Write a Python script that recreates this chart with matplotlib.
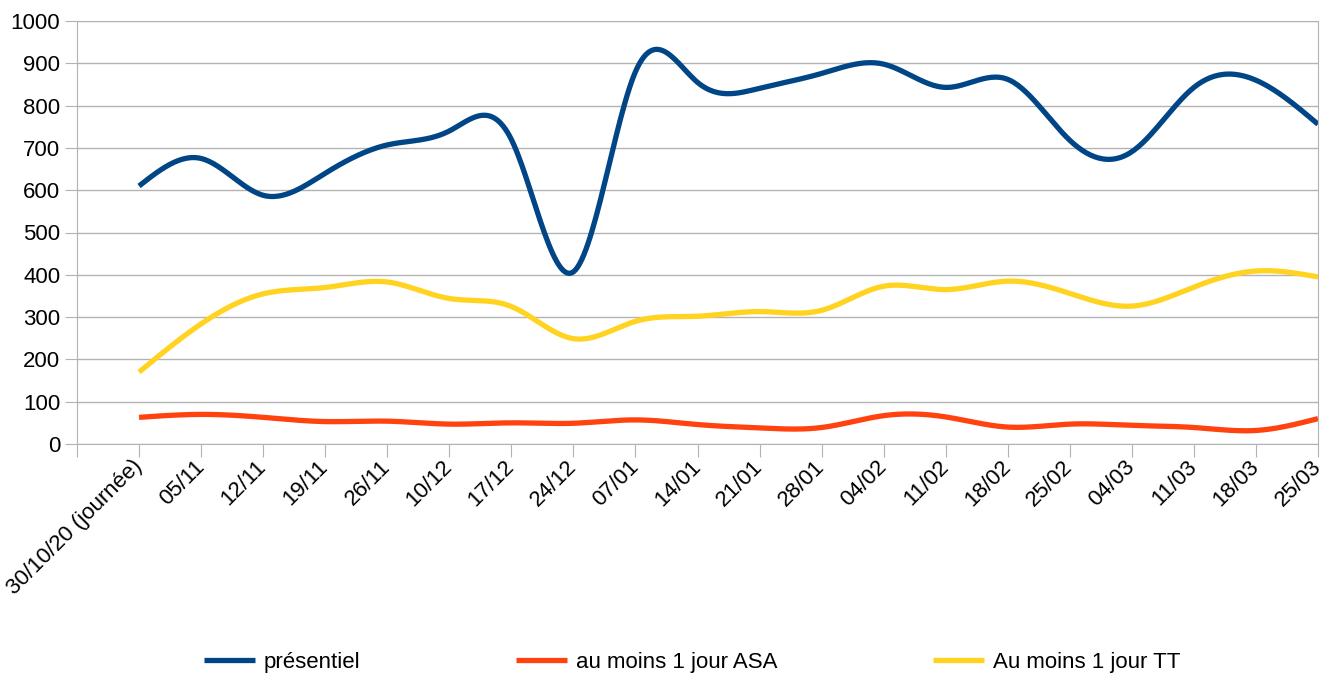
import numpy as np
import matplotlib
matplotlib.use("Agg")
import matplotlib.pyplot as plt

plt.rcParams['font.family'] = ['Liberation Sans', 'DejaVu Sans']

# categories (x axis)
dates = ["30/10/20 (journée)", "05/11", "12/11", "19/11", "26/11", "10/12", "17/12",
         "24/12", "07/01", "14/01", "21/01", "28/01", "04/02", "11/02", "18/02",
         "25/02", "04/03", "11/03", "18/03", "25/03"]

# series
presentiel = [610, 675, 588, 640, 707, 740, 720, 407, 880, 855,
              841, 876, 898, 843, 862, 718, 691, 843, 860, 756]
asa = [63, 70, 63, 53, 54, 47, 50, 49, 57, 46,
       38, 39, 67, 64, 40, 47, 44, 39, 32, 60]
tt = [170, 284, 355, 370, 383, 344, 325, 249, 290, 302,
      313, 316, 373, 365, 385, 356, 326, 371, 409, 395]

noms = ["présentiel", "au moins 1 jour ASA", "Au moins 1 jour TT"]
couleurs = ["#004586", "#ff420e", "#ffd320"]


def spline(y, pas=30):
    # spline cubique naturelle (comme le type "lissé" du tableur)
    y = np.asarray(y, dtype=float)
    n = len(y)
    A = np.zeros((n, n))
    b = np.zeros(n)
    A[0, 0] = 1
    A[-1, -1] = 1
    for i in range(1, n - 1):
        A[i, i - 1] = 1
        A[i, i] = 4
        A[i, i + 1] = 1
        b[i] = 6 * (y[i + 1] - 2 * y[i] + y[i - 1])
    M = np.linalg.solve(A, b)
    xs = []
    ys = []
    for i in range(n - 1):
        t = np.linspace(0, 1, pas, endpoint=(i == n - 2))
        s = (M[i] * (1 - t) ** 3 / 6 + M[i + 1] * t ** 3 / 6
             + (y[i] - M[i] / 6) * (1 - t) + (y[i + 1] - M[i + 1] / 6) * t)
        xs.extend(i + t)
        ys.extend(s)
    return np.array(xs), np.array(ys)


fig = plt.figure(figsize=(13.31, 6.75), dpi=100)
ax = fig.add_axes([77 / 1331, 1 - 444 / 675, (1318 - 77) / 1331, (444 - 21) / 675])

for serie, nom, c in zip([presentiel, asa, tt], noms, couleurs):
    xs, ys = spline(serie)
    ax.plot(xs, ys, color=c, lw=3.8, label=nom, solid_capstyle='butt')

ax.set_xlim(-1, len(dates) - 1)
ax.set_ylim(0, 1000)
ax.set_yticks(np.arange(0, 1001, 100))
ax.grid(axis='y', color='#b3b3b3', lw=1)
ax.set_axisbelow(True)
for s in ax.spines.values():
    s.set_color('#b3b3b3')
ax.tick_params(axis='y', length=9, color='#b3b3b3', labelsize=16, pad=3)

ax.set_xticks(np.arange(-1, len(dates)))
ax.set_xticklabels([""] + dates)
ax.tick_params(axis='x', length=9, color='#b3b3b3', labelsize=16, pad=5)
for lab in ax.get_xticklabels():
    lab.set_rotation(45)
    lab.set_ha('right')
    lab.set_va('center')
    lab.set_rotation_mode('anchor')

fig.legend(loc='center', bbox_to_anchor=(0.52, 0.019), ncol=3, frameon=False,
           fontsize=16, handlelength=2.3, columnspacing=7.0, handletextpad=0.4)

fig.savefig("out.png", dpi=100)
